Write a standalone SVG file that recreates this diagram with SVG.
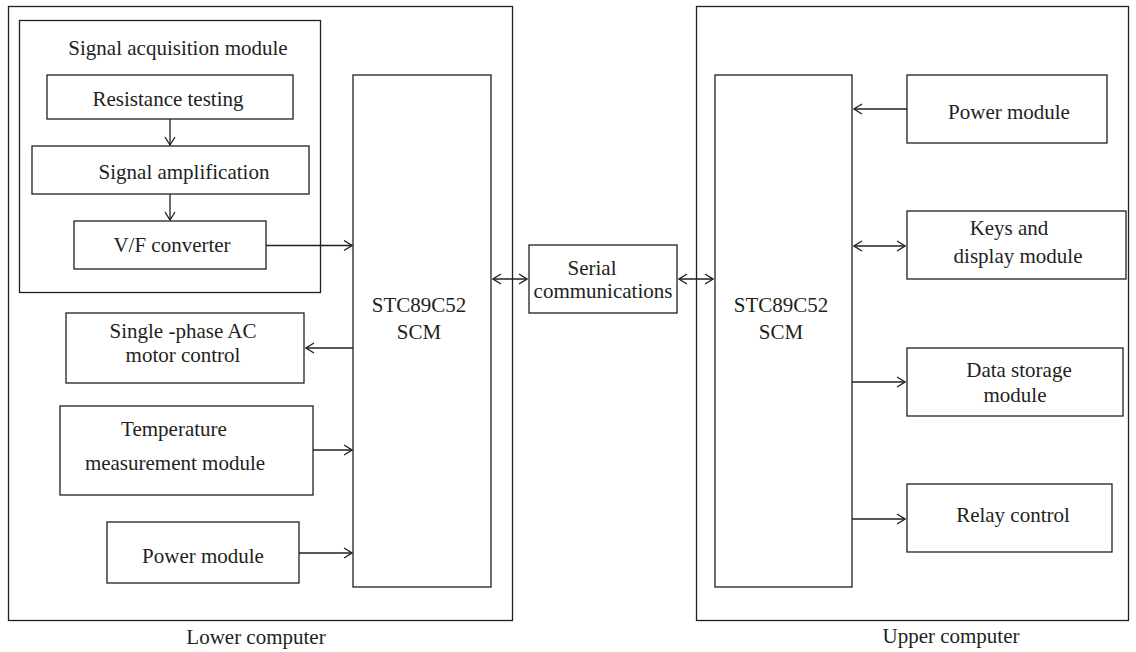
<svg xmlns="http://www.w3.org/2000/svg" width="1136" height="652" viewBox="0 0 1136 652">
  <defs>
    <marker id="arr" viewBox="0 0 10 12" refX="9" refY="6" markerWidth="10" markerHeight="12" markerUnits="userSpaceOnUse" orient="auto-start-reverse">
      <path d="M1,1 L9,6 L1,11" fill="none" stroke="#231f20" stroke-width="1.3"/>
    </marker>
    <style>
      .box { fill: #fff; stroke: #231f20; stroke-width: 1.3; }
      .frame { fill: none; stroke: #231f20; stroke-width: 1.3; }
      .lbl { font-family: "Liberation Serif", "Times New Roman", serif; font-size: 21px; fill: #231f20; text-anchor: middle; }
      .link { fill: none; stroke: #231f20; stroke-width: 1.3; }
      .one { marker-end: url(#arr); }
      .two { marker-start: url(#arr); marker-end: url(#arr); }
    </style>
  </defs>
  <rect width="1136" height="652" fill="#fff"/>

  <!-- lower computer -->
  <g id="lower-computer">
    <rect class="frame" x="8.5" y="6.5" width="504" height="614"/>
    <text class="lbl" x="256" y="644">Lower computer</text>
  </g>
  <g id="signal-acquisition">
    <rect class="frame" x="19.5" y="20.5" width="301" height="272"/>
    <text class="lbl" x="178" y="55">Signal acquisition module</text>
  </g>
  <g id="resistance-testing">
    <rect class="box" x="47" y="75" width="246" height="44"/>
    <text class="lbl" x="168" y="106">Resistance testing</text>
  </g>
  <g id="signal-amplification">
    <rect class="box" x="32" y="146" width="277" height="48"/>
    <text class="lbl" x="184" y="179">Signal amplification</text>
  </g>
  <g id="vf-converter">
    <rect class="box" x="74" y="221" width="192" height="48"/>
    <text class="lbl" x="172" y="252">V/F converter</text>
  </g>
  <g id="motor-control">
    <rect class="box" x="66" y="313" width="238" height="70"/>
    <text class="lbl" x="183" y="338">Single -phase AC</text>
    <text class="lbl" x="183" y="362">motor control</text>
  </g>
  <g id="temperature">
    <rect class="box" x="60" y="406" width="253" height="89"/>
    <text class="lbl" x="174" y="436">Temperature</text>
    <text class="lbl" x="175" y="470">measurement module</text>
  </g>
  <g id="power-lower">
    <rect class="box" x="107" y="522" width="192" height="61"/>
    <text class="lbl" x="203" y="563">Power module</text>
  </g>
  <g id="scm-lower">
    <rect class="box" x="353" y="75" width="138" height="512"/>
    <text class="lbl" x="419" y="312">STC89C52</text>
    <text class="lbl" x="419" y="339">SCM</text>
  </g>

  <!-- link between the two computers -->
  <g id="serial">
    <rect class="box" x="529" y="245" width="148" height="68"/>
    <text class="lbl" x="592" y="275">Serial</text>
    <text class="lbl" x="603" y="298">communications</text>
  </g>

  <!-- upper computer -->
  <g id="upper-computer">
    <rect class="frame" x="696.5" y="6.5" width="432" height="614"/>
    <text class="lbl" x="951" y="643">Upper computer</text>
  </g>
  <g id="scm-upper">
    <rect class="box" x="715" y="75" width="137" height="512"/>
    <text class="lbl" x="781" y="312">STC89C52</text>
    <text class="lbl" x="781" y="339">SCM</text>
  </g>
  <g id="power-upper">
    <rect class="box" x="907" y="75" width="200" height="68"/>
    <text class="lbl" x="1009" y="119">Power module</text>
  </g>
  <g id="keys-display">
    <rect class="box" x="907" y="211" width="219" height="68"/>
    <text class="lbl" x="1009" y="235">Keys and</text>
    <text class="lbl" x="1018" y="263">display module</text>
  </g>
  <g id="data-storage">
    <rect class="box" x="907" y="348" width="216" height="68"/>
    <text class="lbl" x="1019" y="377">Data storage</text>
    <text class="lbl" x="1015" y="402">module</text>
  </g>
  <g id="relay-control">
    <rect class="box" x="907" y="484" width="205" height="68"/>
    <text class="lbl" x="1013" y="522">Relay control</text>
  </g>

  <!-- connectors -->
  <g id="connectors">
    <line class="link one" x1="170" y1="119" x2="170" y2="145"/>
    <line class="link one" x1="170" y1="194" x2="170" y2="220"/>
    <line class="link one" x1="266" y1="245.5" x2="352" y2="245.5"/>
    <line class="link one" x1="353" y1="348" x2="306" y2="348"/>
    <line class="link one" x1="313" y1="450" x2="352" y2="450"/>
    <line class="link one" x1="299" y1="553" x2="352" y2="553"/>
    <line class="link two" x1="493" y1="279" x2="527" y2="279"/>
    <line class="link two" x1="679" y1="279" x2="713" y2="279"/>
    <line class="link one" x1="907" y1="109" x2="854" y2="109"/>
    <line class="link two" x1="854" y1="246" x2="905" y2="246"/>
    <line class="link one" x1="852" y1="382" x2="905" y2="382"/>
    <line class="link one" x1="852" y1="519" x2="905" y2="519"/>
  </g>
</svg>
